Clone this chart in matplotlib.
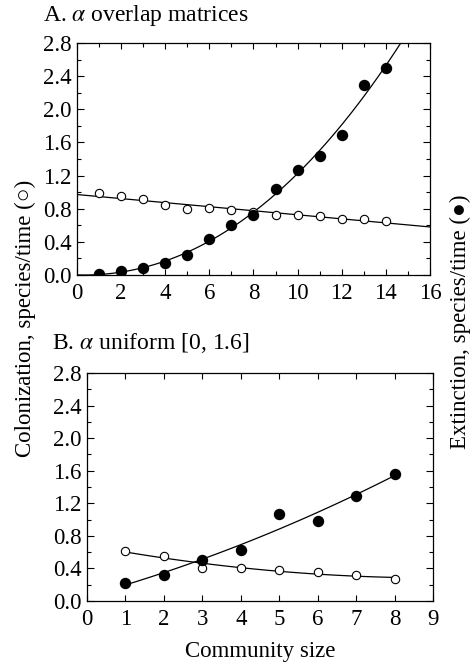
import matplotlib
matplotlib.use("Agg")
import matplotlib.pyplot as plt
from matplotlib.ticker import MultipleLocator
import numpy as np

plt.rcParams['font.family'] = ['Liberation Serif', 'DejaVu Sans']
plt.rcParams['mathtext.fontset'] = 'stix'
plt.rcParams['font.size'] = 12

# panel A: alpha overlap matrices
size_a = np.arange(1, 15)
colon_a = [0.99, 0.95, 0.92, 0.84, 0.80, 0.81, 0.79, 0.76, 0.73, 0.72, 0.71, 0.68, 0.68, 0.65]
extinct_a = [0.01, 0.05, 0.08, 0.145, 0.24, 0.44, 0.60, 0.72, 1.04, 1.27, 1.44, 1.69, 2.29, 2.50]

# panel B: alpha uniform [0, 1.6]
size_b = np.arange(1, 9)
colon_b = [0.61, 0.55, 0.41, 0.40, 0.385, 0.35, 0.315, 0.27]
extinct_b = [0.22, 0.32, 0.50, 0.63, 1.07, 0.98, 1.29, 1.56]

fig = plt.figure(figsize=(4.74, 6.67), dpi=100)
ax1 = fig.add_axes([0.1624, 0.5877, 0.7448, 0.3478])
ax2 = fig.add_axes([0.1835, 0.0990, 0.7300, 0.3418])


def style(ax, xmax, xmajor):
    ax.set_xlim(0, xmax)
    ax.set_ylim(0, 2.8)
    ax.xaxis.set_major_locator(MultipleLocator(xmajor))
    ax.xaxis.set_minor_locator(MultipleLocator(1))
    ax.yaxis.set_major_locator(MultipleLocator(0.4))
    ax.yaxis.set_minor_locator(MultipleLocator(0.2))
    ax.yaxis.set_major_formatter(plt.FormatStrFormatter('%.1f'))
    ax.tick_params(which='both', direction='in', top=True, right=True, width=0.8,
                   labelsize=16.5)
    ax.tick_params(which='major', length=5, pad=4)
    ax.tick_params(which='minor', length=3)
    ax.tick_params(axis='x', which='major', length=4, pad=6)
    for s in ax.spines.values():
        s.set_linewidth(0.9)


# fitted curves from the data
xa = np.linspace(0, 16, 200)
pc = np.polyfit(size_a, colon_a, 1)
pe = np.polyfit(size_a, extinct_a, 3)
ax1.plot(xa, np.polyval(pc, xa), color='black', lw=0.9)
ax1.plot(xa, np.polyval(pe, xa), color='black', lw=0.9)
ax1.plot(size_a, colon_a, 'o', mfc='white', mec='black', ms=6, mew=0.8)
ax1.plot(size_a, extinct_a, 'o', color='black', ms=7.2)
style(ax1, 16, 2)

xb = np.linspace(1, 8, 100)
pcb = np.polyfit(size_b, colon_b, 2)
peb = np.polyfit(size_b, extinct_b, 2)
ax2.plot(xb, np.polyval(pcb, xb), color='black', lw=0.9)
ax2.plot(xb, np.polyval(peb, xb), color='black', lw=0.9)
ax2.plot(size_b, colon_b, 'o', mfc='white', mec='black', ms=6, mew=0.8)
ax2.plot(size_b, extinct_b, 'o', color='black', ms=7.2)
style(ax2, 9, 1)
ax2.set_xlabel('Community size', fontsize=16.5, labelpad=8)

fig.text(43 / 474, 1 - 15 / 667, r'A. $\alpha$ overlap matrices', fontsize=17,
         ha='left', va='center')
fig.text(52 / 474, 1 - 343 / 667, r'B. $\alpha$ uniform [0, 1.6]', fontsize=17,
         ha='left', va='center')
fig.text(25 / 474, 1 - 318 / 667, 'Colonization, species/time (○)', fontsize=16.5,
         rotation=90, ha='center', va='center')
fig.text(460 / 474, 1 - 322 / 667, 'Extinction, species/time (●)', fontsize=16.5,
         rotation=90, ha='center', va='center')

fig.savefig('out.png', dpi=100)
